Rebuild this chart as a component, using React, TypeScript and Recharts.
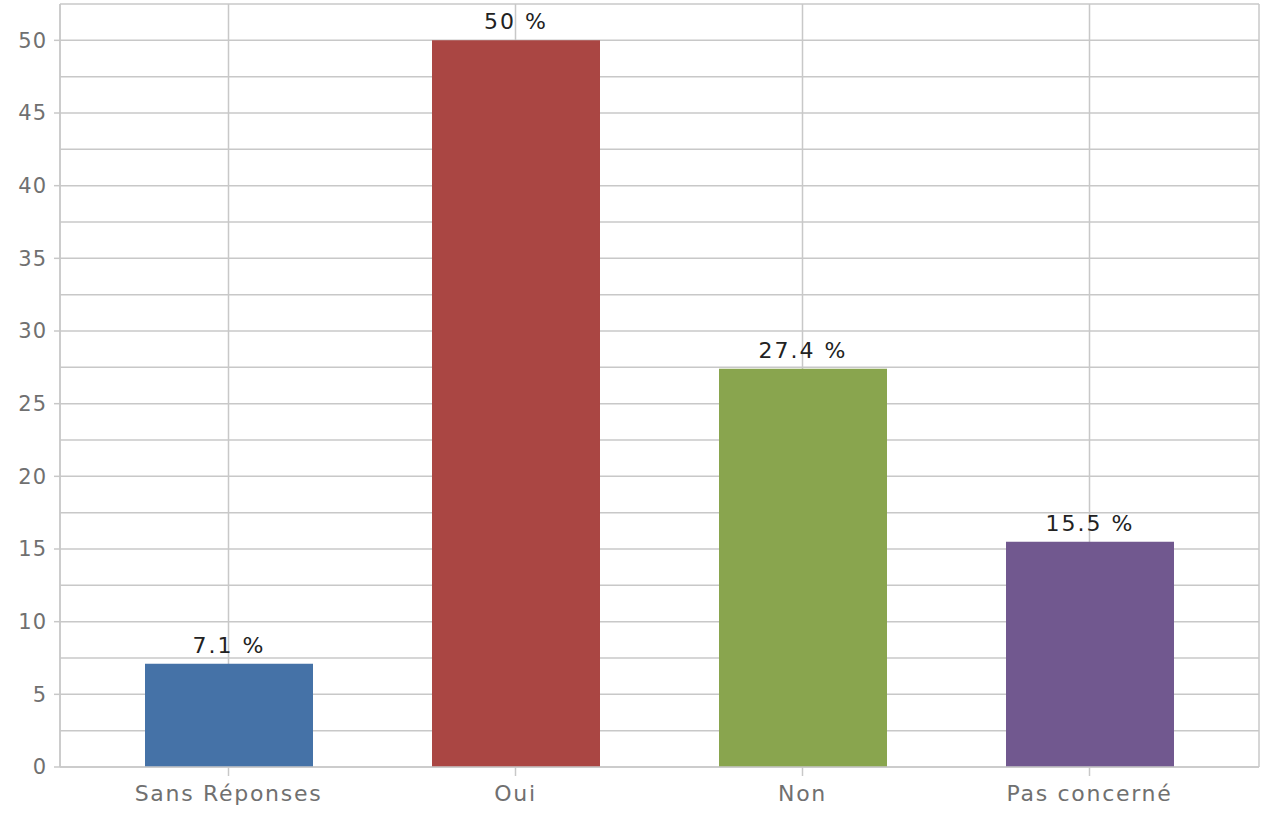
import { Bar, BarChart, CartesianGrid, Cell, LabelList, XAxis, YAxis } from "recharts"

const categories = ["Sans Réponses", "Oui", "Non", "Pas concerné"]
const percents = [7.1, 50, 27.4, 15.5]
const colors = ["#4572A7", "#AA4643", "#89A54E", "#71588F"]
const yTicks = [0, 5, 10, 15, 20, 25, 30, 35, 40, 45, 50]
const gridValues = [0, 2.5, 5, 7.5, 10, 12.5, 15, 17.5, 20, 22.5, 25, 27.5, 30, 32.5, 35, 37.5, 40, 42.5, 45, 47.5, 50, 52.5]

const data = categories.map((name, i) => ({ name, value: percents[i] }))

const font = "'DejaVu Sans', Verdana, sans-serif"
const lineColor = "#C8C8C8"

export default function App() {
  return (
    <div style={{ position: "absolute", left: 0, top: 0, background: "#fff" }}>
      <BarChart
        width={1268}
        height={814}
        data={data}
        margin={{ top: 4, right: 9, left: 0, bottom: 0 }}
      >
        <CartesianGrid
          stroke={lineColor}
          strokeWidth={1.5}
          horizontalValues={gridValues}
        />
        <XAxis
          dataKey="name"
          height={47}
          padding={{ left: 25, right: 26 }}
          axisLine={{ stroke: lineColor, strokeWidth: 1.5 }}
          tickLine={{ stroke: lineColor, strokeWidth: 1.5 }}
          tickSize={9}
          tickMargin={9}
          tick={{ fontSize: 22, fill: "#707070", fontFamily: font, letterSpacing: 1.7 }}
        />
        <YAxis
          domain={[0, 52.5]}
          ticks={yTicks}
          width={60}
          axisLine={{ stroke: lineColor, strokeWidth: 1.5 }}
          tickLine={{ stroke: lineColor, strokeWidth: 1.5 }}
          tickSize={6}
          tickMargin={7}
          tick={{ fontSize: 21, fill: "#707070", fontFamily: font, letterSpacing: 1 }}
        />
        <YAxis
          yAxisId="right"
          orientation="right"
          domain={[0, 52.5]}
          width={0}
          tick={false}
          tickLine={false}
          axisLine={{ stroke: lineColor, strokeWidth: 1.5 }}
        />
        <Bar dataKey="value" barSize={168} isAnimationActive={false}>
          {data.map((d, i) => (
            <Cell key={d.name} fill={colors[i]} />
          ))}
          <LabelList
            dataKey="value"
            position="top"
            offset={11}
            formatter={(v: number) => `${v} %`}
            style={{ fontSize: 22, fill: "#222", fontFamily: font, letterSpacing: 2 }}
          />
        </Bar>
      </BarChart>
    </div>
  )
}
